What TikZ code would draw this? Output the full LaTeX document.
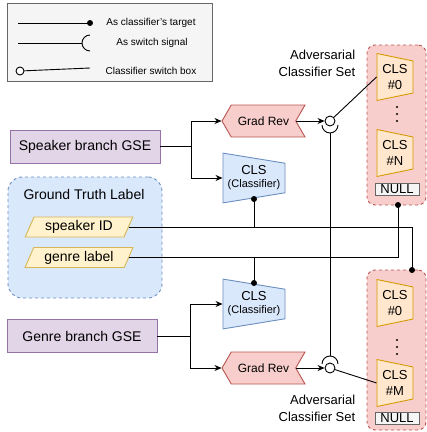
\documentclass[tikz,border=0pt]{standalone}
\usepackage{fontspec}
\setmainfont{Liberation Sans}
\usetikzlibrary{shapes.geometric,shapes.symbols,arrows.meta,calc}
\definecolor{gsefill}{HTML}{E1D5E7}
\definecolor{gsedraw}{HTML}{9673A6}
\definecolor{revfill}{HTML}{F8CECC}
\definecolor{revdraw}{HTML}{B85450}
\definecolor{clsfill}{HTML}{DAE8FC}
\definecolor{clsdraw}{HTML}{6C8EBF}
\definecolor{labfill}{HTML}{FFF2CC}
\definecolor{labdraw}{HTML}{D6B656}
\definecolor{advfill}{HTML}{FFE6CC}
\definecolor{advdraw}{HTML}{D79B00}
\definecolor{legfill}{HTML}{F5F5F5}
\definecolor{legdraw}{HTML}{666666}

\begin{document}
\begin{tikzpicture}[x=1pt,y=-1pt,line width=0.9pt,>={Stealth[length=7pt,width=6pt]},
                gse/.style={draw=gsedraw,fill=gsefill,minimum width=150pt,minimum height=33pt,font=\fontsize{14}{16}\selectfont},
                gradrev/.style={signal,signal to=west,signal from=east,signal pointer angle=120,draw=revdraw,fill=revfill,minimum width=83pt,minimum height=32pt,inner sep=0pt,font=\fontsize{12}{14}\selectfont},
                clsmain/.style={trapezium,shape border rotate=270,trapezium left angle=81,trapezium right angle=81,trapezium stretches=true,draw=clsdraw,fill=clsfill,minimum width=50pt,minimum height=62pt,inner sep=0pt,align=center,font=\fontsize{13}{15}\selectfont},
                clsadv/.style={trapezium,shape border rotate=270,trapezium left angle=77,trapezium right angle=77,trapezium stretches=true,draw=advdraw,fill=advfill,minimum width=47pt,minimum height=36pt,inner sep=0pt,align=center,font=\fontsize{13}{16}\selectfont},
                advset/.style={draw=revdraw,fill=revfill,dashed,rounded corners=8pt,minimum width=59pt,minimum height=160pt},
                nullbox/.style={draw=legdraw,fill=legfill,minimum width=44pt,minimum height=12pt,inner sep=0pt,font=\fontsize{13}{13}\selectfont},
                para/.style={trapezium,trapezium left angle=63,trapezium right angle=117,trapezium stretches=true,draw=labdraw,fill=labfill,minimum width=108pt,minimum height=20pt,inner sep=0pt,font=\fontsize{14}{16}\selectfont},
                swbox/.style={circle,draw,fill=white,minimum size=10pt,inner sep=0pt},
                legtext/.style={font=\fontsize{10}{12}\selectfont},
                advlabel/.style={anchor=east,align=right,font=\fontsize{13}{17}\selectfont}]
                \useasboundingbox(0,0)rectangle(427,432);
                % legend
                \node[draw=legdraw,fill=legfill,minimum width=205pt,minimum height=78pt](legend)at(109.5,42){};
                \coordinate(l1a)at(18,23);
                \coordinate(l1b)at(90,23);
                \draw(l1a)--(l1b);
                \fill(l1b)circle(3);
                \node[legtext](lt1)at(151,23){As classifier's target};
                \coordinate(l2a)at(18,43);
                \coordinate(l2b)at(82,43);
                \draw(l2a)--(l2b);
                \draw([shift={(8,-8)}]l2b)arc[start angle=270,end angle=90,radius=8];
                \node[legtext](lt2)at(152,43){As switch signal};
                \node[swbox,minimum size=8pt](l3a)at(20,71){};
                \coordinate(l3b)at(90,68);
                \draw(l3a)--(l3b);
                \node[legtext](lt3)at(151,71){Classifier switch box};
                % branches
                \node[gse](spk)at(85,146.5){Speaker branch GSE};
                \node[gse](gen)at(82,336){Genre branch GSE};
                \node[gradrev](gr1)at(263.5,121){Grad Rev};
                \node[gradrev](gr2)at(263.5,368){Grad Rev};
                \node[clsmain](cl1)at(254,178){CLS\\[-2pt]{\fontsize{11}{13}\selectfont(Classifier)}};
                \node[clsmain](cl2)at(254,304){CLS\\[-2pt]{\fontsize{11}{13}\selectfont(Classifier)}};
                \coordinate(f1)at(191,146.5);
                \coordinate(f2)at(190,336);
                \draw(spk)--(f1);
                \draw[->](f1)|-(gr1);
                \draw[->](f1)|-(cl1);
                \draw(gen)--(f2);
                \draw[->](f2)|-(cl2);
                \draw[->](f2)|-(gr2);
                % switches
                \node[swbox](sw1)at(330,121){};
                \node[swbox](sw2)at(330,368){};
                \draw[->](gr1.east)--(sw1);
                \draw[->](gr2.east)--(sw2);
                \draw([shift={(-8,4)}]sw1.center)arc[start angle=180,end angle=0,radius=8];
                \draw([shift={(-8,-4)}]sw2.center)arc[start angle=180,end angle=360,radius=8];
                \coordinate(sg1)at(330,133);
                \coordinate(sg2)at(330,356);
                \draw(sg1)--(sg2);
                % adversarial classifier sets
                \node[advset](set1)at(396.5,125){};
                \node[clsadv](a10)at(395,77){CLS\\\#0};
                \node[clsadv](a1n)at(395,153){CLS\\\#N};
                \node[nullbox](n1)at(397,189){NULL};
                \node[advset](set2)at(396.5,350){};
                \node[clsadv](a20)at(395,303){CLS\\\#0};
                \node[clsadv](a2m)at(395,383){CLS\\\#M};
                \node[nullbox](n2)at(397,418){NULL};
                \foreach \y in {107,114,121,340,347,354}
                    \fill(397,\y)circle(1.2);
                \node[advlabel](adv1)at(359,63.5){Adversarial\\Classifier Set};
                \node[advlabel](adv2)at(359,408.5){Adversarial\\Classifier Set};
                \draw(sw1)--(a10.west);
                \draw(sw2)--(a2m.west);
                % ground truth
                \node[draw=clsdraw,fill=clsfill,dashed,rounded corners=14pt,minimum width=154pt,minimum height=121pt](gt)at(85,237.5){};
                \node[font=\fontsize{14}{16}\selectfont](gtt)at(84,194){Ground Truth Label};
                \node[para](spkid)at(79,227){speaker ID};
                \node[para](genlab)at(79,257.5){genre label};
                \coordinate(t1)at(398,205);
                \coordinate(t2)at(412,270);
                \draw(spkid.east)-|(t2);
                \draw(genlab.east)-|(t1);
                \fill(t1)circle(3);
                \fill(t2)circle(3);
                \coordinate(c1)at(254,199);
                \coordinate(c2)at(254,283);
                \draw(c1)--(c1|-spkid.east);
                \draw(c2)--(c2|-genlab.east);
                \fill(c1)circle(3);
                \fill(c2)circle(3);
            \end{tikzpicture}
\end{document}
